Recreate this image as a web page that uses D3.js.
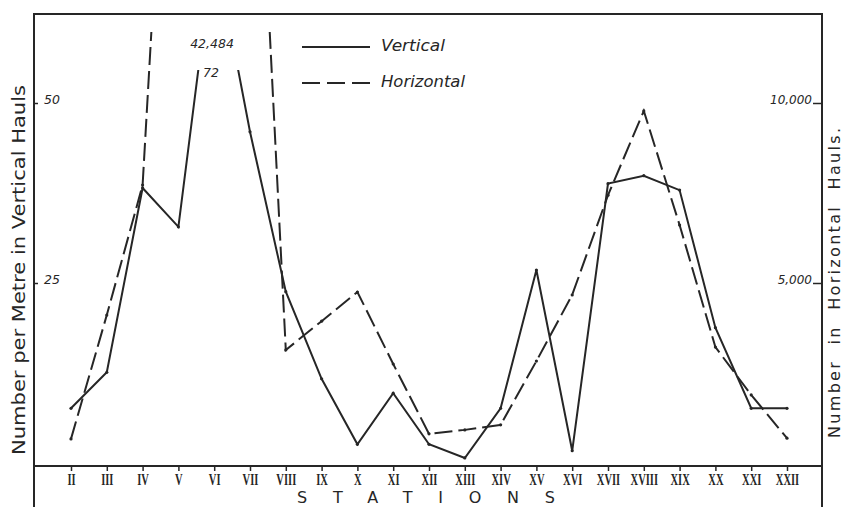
<!DOCTYPE html>
<html>
<head>
<meta charset="utf-8">
<script src="https://cdn.jsdelivr.net/npm/d3@7"></script>
<style>
  body { margin: 0; background: #fff; }
  svg { display: block; }
</style>
</head>
<body>
<div id="chart"></div>
<script>
var width = 848, height = 507;

// stations along the bottom
var stations = ["II","III","IV","V","VI","VII","VIII","IX","X","XI","XII",
                "XIII","XIV","XV","XVI","XVII","XVIII","XIX","XX","XXI","XXII"];

// number per metre, vertical hauls (left scale)
var vertical = [7.6, 12.6, 38.2, 32.8, 72, 46.0, 23.8, 11.7, 2.6, 9.7, 2.6,
                0.7, 7.6, 26.8, 1.7, 38.8, 39.9, 37.9, 18.8, 7.6, 7.6];

// number in horizontal hauls (right scale), null = not read
var horizontal = [670, 4110, 7720, null, 42484, null, 3140, 3940, 4750, 2750, 810,
                  920, 1060, 2830, 4670, 7440, 9780, 6610, 3220, 1890, 690];

var leftTicks = [25, 50];
var rightTicks = [5000, 10000];

var ink = "#262626";

var svg = d3.select("#chart")
  .append("svg")
    .attr("width", width)
    .attr("height", height);

var x = d3.scalePoint()
    .domain(stations)
    .range([71, 787]);

var yV = d3.scaleLinear()
    .domain([0, 50])
    .range([463, 103]);

var yH = d3.scaleLinear()
    .domain([0, 10000])
    .range([463, 103]);

// clip regions: the solid line stops lower than the dashed one
var defs = svg.append("defs");
defs.append("clipPath").attr("id", "clipV")
  .append("rect").attr("x", 35).attr("y", 70).attr("width", 786).attr("height", 395);
defs.append("clipPath").attr("id", "clipH")
  .append("rect").attr("x", 35).attr("y", 32).attr("width", 786).attr("height", 433);

// frame
var frame = svg.append("g")
    .attr("stroke", ink)
    .attr("stroke-width", 2)
    .attr("fill", "none");
frame.append("line").attr("x1", 33).attr("x2", 823).attr("y1", 14).attr("y2", 14);
frame.append("line").attr("x1", 34).attr("x2", 34).attr("y1", 13).attr("y2", height);
frame.append("line").attr("x1", 822).attr("x2", 822).attr("y1", 13).attr("y2", height);
frame.append("line").attr("x1", 34).attr("x2", 822).attr("y1", 466).attr("y2", 466);

// left axis
var gLeft = svg.append("g")
    .attr("transform", "translate(34,0)")
    .call(d3.axisRight(yV).tickValues(leftTicks).tickSize(4).tickPadding(6));
gLeft.select(".domain").remove();
gLeft.selectAll("line").attr("stroke", ink).attr("stroke-width", 1.5);
gLeft.selectAll("text")
    .attr("dy", "0")
    .attr("font-family", "DejaVu Sans")
    .attr("font-style", "italic")
    .attr("font-size", 12.5)
    .attr("fill", ink);

// right axis
var gRight = svg.append("g")
    .attr("transform", "translate(822,0)")
    .call(d3.axisLeft(yH).tickValues(rightTicks).tickSize(9).tickPadding(1)
      .tickFormat(d3.format(",")));
gRight.select(".domain").remove();
gRight.selectAll("line").attr("stroke", ink).attr("stroke-width", 1.5);
gRight.selectAll("text")
    .attr("dy", "0")
    .attr("font-family", "DejaVu Sans")
    .attr("font-style", "italic")
    .attr("font-size", 12)
    .attr("fill", ink);

// bottom axis, numerals squeezed horizontally like the printed ones
var gBottom = svg.append("g")
    .attr("transform", "translate(0,466)")
    .call(d3.axisBottom(x).tickSize(5).tickPadding(2));
gBottom.select(".domain").remove();
gBottom.selectAll("line").attr("stroke", ink).attr("stroke-width", 1.5);
gBottom.selectAll("text")
    .attr("dy", "0.68em")
    .attr("transform", "scale(0.62,1)")
    .attr("font-family", "Liberation Serif")
    .attr("font-weight", "bold")
    .attr("font-size", 17)
    .attr("fill", ink);

// lines
var lineV = d3.line()
    .x(function(d) { return x(d.s); })
    .y(function(d) { return yV(d.v); });

var lineH = d3.line()
    .x(function(d) { return x(d.s); })
    .y(function(d) { return yH(d.v); });

var vData = stations.map(function(s, i) { return {s: s, v: vertical[i]}; });
var hData = stations.map(function(s, i) { return {s: s, v: horizontal[i]}; })
    .filter(function(d) { return d.v != null; });

var gH = svg.append("g").attr("clip-path", "url(#clipH)");
gH.append("path")
    .datum(hData)
    .attr("d", lineH)
    .attr("fill", "none")
    .attr("stroke", ink)
    .attr("stroke-width", 2)
    .attr("stroke-dasharray", "18,6");
gH.selectAll("circle")
    .data(hData)
  .enter().append("circle")
    .attr("cx", function(d) { return x(d.s); })
    .attr("cy", function(d) { return yH(d.v); })
    .attr("r", 1.6)
    .attr("fill", ink);

var gV = svg.append("g").attr("clip-path", "url(#clipV)");
gV.append("path")
    .datum(vData)
    .attr("d", lineV)
    .attr("fill", "none")
    .attr("stroke", ink)
    .attr("stroke-width", 2);
gV.selectAll("circle")
    .data(vData)
  .enter().append("circle")
    .attr("cx", function(d) { return x(d.s); })
    .attr("cy", function(d) { return yV(d.v); })
    .attr("r", 1.6)
    .attr("fill", ink);

// off-scale values written at the top
svg.append("text")
    .attr("x", 212).attr("y", 48)
    .attr("text-anchor", "middle")
    .attr("font-family", "DejaVu Sans")
    .attr("font-style", "italic")
    .attr("font-size", 12.5)
    .attr("fill", ink)
    .text(d3.format(",")(horizontal[stations.indexOf("VI")]));
svg.append("text")
    .attr("x", 211).attr("y", 77)
    .attr("text-anchor", "middle")
    .attr("font-family", "DejaVu Sans")
    .attr("font-style", "italic")
    .attr("font-size", 12.5)
    .attr("fill", ink)
    .text(vertical[stations.indexOf("VI")]);

// legend
var legend = svg.append("g");
legend.append("line")
    .attr("x1", 302).attr("x2", 370).attr("y1", 47).attr("y2", 47)
    .attr("stroke", ink).attr("stroke-width", 2);
legend.append("line")
    .attr("x1", 302).attr("x2", 370).attr("y1", 83).attr("y2", 83)
    .attr("stroke", ink).attr("stroke-width", 2)
    .attr("stroke-dasharray", "18,7");
legend.append("text")
    .attr("x", 381).attr("y", 51)
    .attr("font-family", "DejaVu Sans").attr("font-style", "italic")
    .attr("font-size", 15).attr("fill", ink)
    .attr("textLength", 64).attr("lengthAdjust", "spacingAndGlyphs")
    .text("Vertical");
legend.append("text")
    .attr("x", 381).attr("y", 87)
    .attr("font-family", "DejaVu Sans").attr("font-style", "italic")
    .attr("font-size", 15).attr("fill", ink)
    .attr("textLength", 84).attr("lengthAdjust", "spacingAndGlyphs")
    .text("Horizontal");

// axis titles
svg.append("text")
    .attr("transform", "translate(25,270) rotate(-90)")
    .attr("text-anchor", "middle")
    .attr("font-family", "DejaVu Sans")
    .attr("font-size", 17)
    .attr("fill", ink)
    .attr("textLength", 370).attr("lengthAdjust", "spacingAndGlyphs")
    .text("Number per Metre in Vertical Hauls");

svg.append("text")
    .attr("transform", "translate(840,283) rotate(-90)")
    .attr("text-anchor", "middle")
    .attr("font-family", "DejaVu Sans")
    .attr("font-size", 16)
    .attr("word-spacing", 8)
    .attr("fill", ink)
    .attr("textLength", 310).attr("lengthAdjust", "spacing")
    .text("Number in Horizontal Hauls.");

svg.append("text")
    .attr("x", 297).attr("y", 503)
    .attr("font-family", "DejaVu Sans")
    .attr("font-size", 16)
    .attr("fill", ink)
    .attr("textLength", 258).attr("lengthAdjust", "spacing")
    .text("STATIONS");
</script>
</body>
</html>
